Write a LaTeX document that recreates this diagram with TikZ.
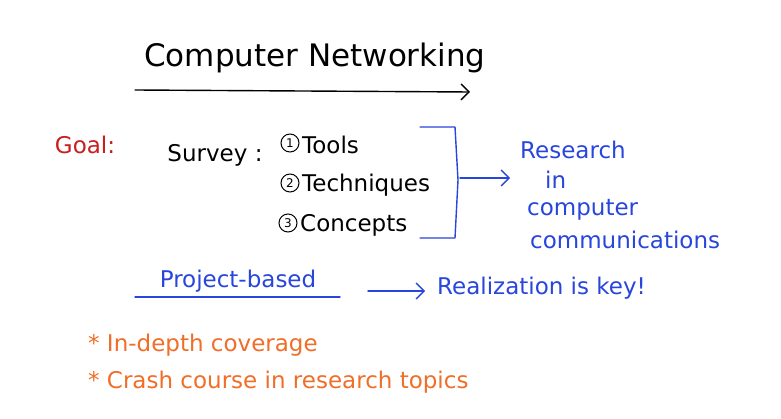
\documentclass[tikz,border=0pt]{standalone}
\usepackage{fontspec}
\setmainfont{DejaVu Sans}
\usetikzlibrary{arrows.meta}
\definecolor{pblue}{RGB}{40,70,220}
\definecolor{pred}{RGB}{200,30,30}
\definecolor{porange}{RGB}{240,110,40}
\tikzset{txt/.style={font=\fontsize{23}{26}\selectfont,inner sep=0pt},
 ink/.style={line width=1.4pt,line cap=round,line join=round},
 num/.style={draw,circle,line width=1pt,inner sep=1pt,minimum size=18pt,font=\fontsize{12}{12}\selectfont}}
\begin{document}
\begin{tikzpicture}[x=1pt,y=-1pt]
\useasboundingbox[fill=white] (0,0) rectangle (781,419);
\node[txt,font=\fontsize{31}{34}\selectfont] (title) at (315,58) {Computer Networking};
\coordinate (ul1) at (135,90); \coordinate (ul2) at (470,92);
\draw[ink,-{Straight Barb[length=8pt]}] (ul1) -- (ul2);
\node[txt,pred] (goal) at (85,145) {Goal:};
\node[txt] (survey) at (215,155) {Survey :};
\node[num] (n1) at (290,143) {1};
\node[txt,anchor=west] (t1) at (302,145) {Tools};
\node[num] (n2) at (290,183) {2};
\node[txt,anchor=west] (t2) at (302,185) {Techniques};
\node[num] (n3) at (288,223) {3};
\node[txt,anchor=west] (t3) at (300,225) {Concepts};
\coordinate (b1) at (420,127); \coordinate (b2) at (420,238);
\draw[ink,pblue] (b1) -- (455,127) -- (458,180) -- (455,238) -- (b2);
\coordinate (a1) at (460,178);
\node[txt,pblue,anchor=west] (r1) at (520,150) {Research};
\node[txt,pblue,anchor=west] (r2) at (545,180) {in};
\node[txt,pblue,anchor=west] (r3) at (527,210) {computer};
\node[txt,pblue,anchor=west] (r4) at (530,240) {communications};
\draw[ink,pblue,-{Straight Barb[length=8pt]}] (a1) -- (510,178);
\node[txt,pblue] (proj) at (238,281) {Project-based};
\draw[ink,pblue] (135,297) -- (340,297);
\node[txt,pblue,anchor=west] (real) at (437,288) {Realization is key!};
\draw[ink,pblue,-{Straight Barb[length=8pt]}] (368,291) -- (425,291);
\node[txt,porange,anchor=west] (c1) at (88,345) {* In-depth coverage};
\node[txt,porange,anchor=west] (c2) at (88,382) {* Crash course in research topics};
\end{tikzpicture}
\end{document}
